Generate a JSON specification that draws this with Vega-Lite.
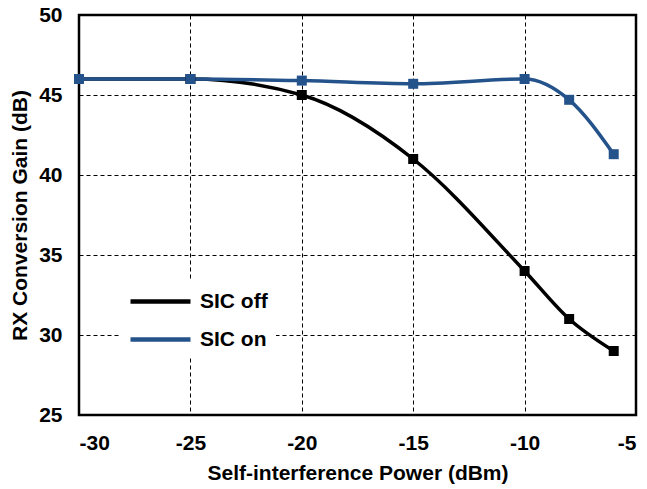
{
  "$schema": "https://vega.github.io/schema/vega-lite/v6.json",
  "width": 557,
  "height": 400,
  "autosize": "none",
  "padding": {"left": 79, "top": 15, "right": 11, "bottom": 74},
  "background": "white",
  "config": {
    "font": "Liberation Sans",
    "view": {"stroke": "black", "strokeWidth": 2.5},
    "axis": {
      "labelFont": "Liberation Sans", "labelFontWeight": "bold", "labelFontSize": 21, "labelColor": "black",
      "titleFont": "Liberation Sans", "titleFontWeight": "bold", "titleFontSize": 21, "titleColor": "black",
      "grid": true, "gridColor": "black", "gridDash": [4, 3], "gridWidth": 1, "gridOpacity": 1,
      "domain": false, "ticks": false,
      "labelExpr": "replace(datum.label, '−', '-')"
    }
  },
  "data": {"values": [
    {"p": -30, "g": 46, "s": "SIC off"},
    {"p": -25, "g": 46, "s": "SIC off"},
    {"p": -20, "g": 45, "s": "SIC off"},
    {"p": -15, "g": 41, "s": "SIC off"},
    {"p": -10, "g": 34, "s": "SIC off"},
    {"p": -8, "g": 31, "s": "SIC off"},
    {"p": -6, "g": 29, "s": "SIC off"},
    {"p": -30, "g": 46, "s": "SIC on"},
    {"p": -25, "g": 46, "s": "SIC on"},
    {"p": -20, "g": 45.9, "s": "SIC on"},
    {"p": -15, "g": 45.7, "s": "SIC on"},
    {"p": -10, "g": 46, "s": "SIC on"},
    {"p": -8, "g": 44.7, "s": "SIC on"},
    {"p": -6, "g": 41.3, "s": "SIC on"}
  ]},
  "mark": {"type": "line", "interpolate": "monotone", "strokeWidth": 3.5, "point": {"filled": true, "shape": "square", "size": 100, "opacity": 1}},
  "encoding": {
    "x": {"field": "p", "type": "quantitative", "scale": {"domain": [-30, -5]},
      "axis": {"title": "Self-interference Power (dBm)", "values": [-30, -25, -20, -15, -10, -5], "labelPadding": 17, "titlePadding": 9}},
    "y": {"field": "g", "type": "quantitative", "scale": {"domain": [25, 50]},
      "axis": {"title": "RX Conversion Gain (dB)", "values": [25, 30, 35, 40, 45, 50], "labelPadding": 17, "titlePadding": 8}},
    "color": {"field": "s", "type": "nominal",
      "scale": {"domain": ["SIC off", "SIC on"], "range": ["#000000", "#24528a"]},
      "legend": {"title": null, "orient": "none", "legendX": 41, "legendY": 266,
        "symbolType": "M-1,0H5", "symbolSize": 400, "symbolStrokeWidth": 4.5, "symbolFillColor": "transparent",
        "labelFont": "Liberation Sans", "labelFontWeight": "bold", "labelFontSize": 21, "labelColor": "black",
        "labelOffset": 47, "rowPadding": 15, "fillColor": "white", "padding": 8, "strokeColor": null}}
  }
}
